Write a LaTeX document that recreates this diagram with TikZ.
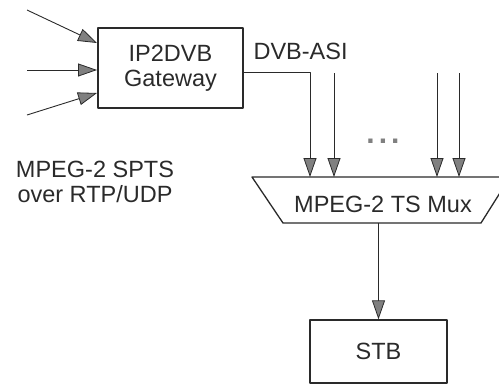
\documentclass[tikz,border=0pt]{standalone}
\usepackage{fontspec}
\setmainfont{Liberation Sans}
\usetikzlibrary{arrows.meta}
\definecolor{ink}{HTML}{2A2A2A}
\definecolor{tipgrey}{HTML}{808080}

\begin{document}
\begin{tikzpicture}[
  x=1pt, y=-1pt,
  line join=round,
  edge/.style={line width=1.3pt, draw=ink},
  feed/.style={line width=0.9pt, draw=ink,
    -{Triangle[length=19pt, width=13pt, fill=tipgrey, line width=0.8pt]}},
  lbl/.style={font=\fontsize{23.5}{25}\selectfont, text=ink},
  box/.style={edge, rectangle, inner sep=0pt},
]
\useasboundingbox (0,0) rectangle (499,386);
\clip (0,0) rectangle (499,386);

% ── the gateway and its three IP feeds ────────────────────────────────────
\node[box, lbl, align=center, minimum width=145pt, minimum height=80pt]
  (gw) at (170.5,68) {IP2DVB\\Gateway};

\coordinate (in1) at (27,10);
\coordinate (in2) at (27,70);
\coordinate (in3) at (27,115);
\draw[feed] (in1) -- (97,43);
\draw[feed] (in2) -- (97,70);
\draw[feed] (in3) -- (97,93);

\node[lbl, align=center] (ipin) at (95,182) {MPEG-2 SPTS\\over RTP/UDP};

% ── the multiplexer, running off the page on the right ────────────────────
\draw[edge] (252,177) -- (510,177) -- (481,223) -- (283,223) -- cycle;
\coordinate (muxtop) at (381,177);
\coordinate (muxbot) at (381,223);
\node[lbl] (mux) at (383,204) {MPEG-2 TS Mux};

% ── the DVB-ASI streams into the mux ──────────────────────────────────────
\node[lbl, anchor=west] (asi) at (250,51) {DVB-ASI};
\coordinate (s1) at (310,72);
\coordinate (s2) at (334,73);
\coordinate (s3) at (437,73);
\coordinate (s4) at (459,73);
\draw[feed] (gw.east |- s1) -- (s1) -- (s1 |- muxtop);
\foreach \s in {s2,s3,s4}
  \draw[feed] (\s) -- (\s |- muxtop);
\node[text=tipgrey, font=\fontsize{30}{30}\selectfont\bfseries]
  (dots) at (383,141) {.\hspace{4pt}.\hspace{4pt}.};

% ── the set-top box ───────────────────────────────────────────────────────
\node[box, lbl, minimum width=137pt, minimum height=63pt]
  (stb) at (378.5,351.5) {STB};
\draw[feed] (stb.north |- muxbot) -- (stb.north);

\end{tikzpicture}
\end{document}
